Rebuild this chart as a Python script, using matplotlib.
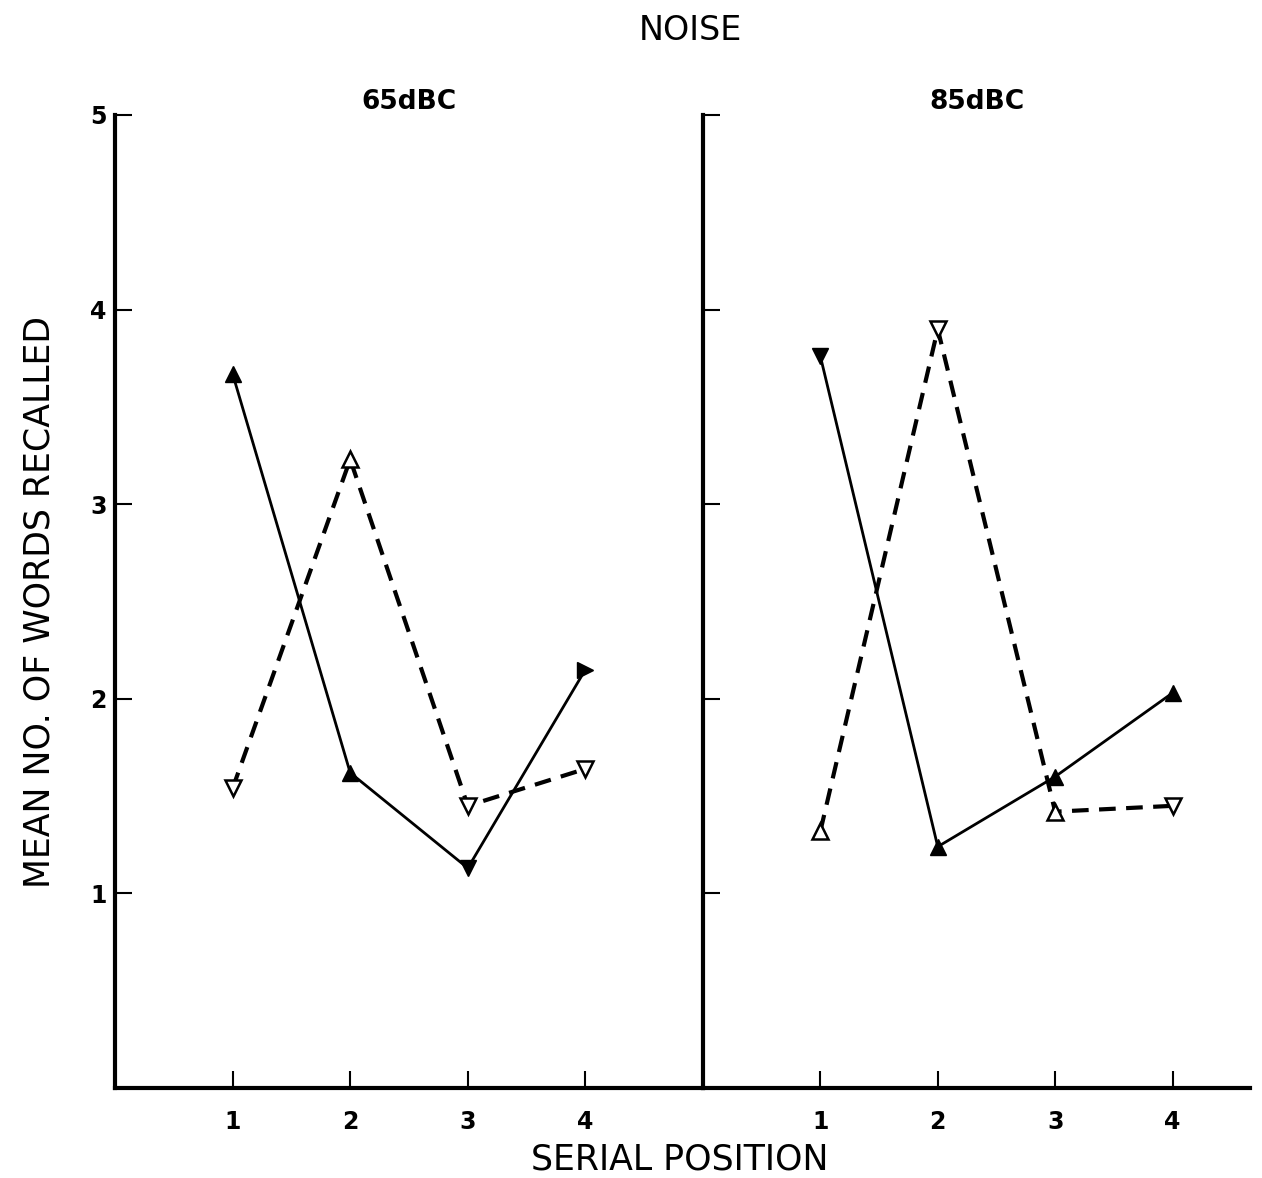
import matplotlib.pyplot as plt

plt.rcParams['font.family'] = ['DejaVu Sans']

positions = [1, 2, 3, 4]

# 65 dBC panel
solid_65 = [3.67, 1.62, 1.13, 2.15]
solid_65_mk = ['^', '^', 'v', '>']
dash_65 = [1.54, 3.23, 1.45, 1.64]
dash_65_mk = ['v', '^', 'v', 'v']

# 85 dBC panel
solid_85 = [3.76, 1.24, 1.60, 2.03]
solid_85_mk = ['v', '^', '^', '^']
dash_85 = [1.32, 3.90, 1.42, 1.45]
dash_85_mk = ['^', 'v', '^', 'v']

y_ticks = [1, 2, 3, 4, 5]
x_ticklabels = ['1', '2', '3', '4']

W, H = 1262, 1178
fig = plt.figure(figsize=(W / 100, H / 100), dpi=100)

bottom = 1 - 1088 / H
height = (1088 - 115) / H
ax1 = fig.add_axes([115 / W, bottom, (703 - 115) / W, height])
ax2 = fig.add_axes([703 / W, bottom, (1250 - 703) / W, height])


def draw_panel(ax, solid, solid_mk, dash, dash_mk, xmax, label, show_ylabels):
    ax.plot(positions, solid, color='black', lw=2, zorder=2)
    ax.plot(positions, dash, color='black', lw=3, ls=(0, (4, 2.5)), zorder=2)
    for x, y, m in zip(positions, solid, solid_mk):
        ax.plot(x, y, marker=m, ms=11, color='black', zorder=3)
    for x, y, m in zip(positions, dash, dash_mk):
        ax.plot(x, y, marker=m, ms=11, mfc='white', mec='black', mew=1.8, zorder=3)
    ax.set_xlim(0, xmax)
    ax.set_ylim(0, 5)
    for s in ['top', 'right']:
        ax.spines[s].set_visible(False)
    ax.spines['left'].set_linewidth(3)
    ax.spines['bottom'].set_linewidth(3)
    ax.set_xticks(positions)
    ax.set_xticklabels(x_ticklabels, fontsize=17, fontweight='bold')
    ax.set_yticks(y_ticks)
    if show_ylabels:
        ax.set_yticklabels([str(t) for t in y_ticks], fontsize=17, fontweight='bold')
    else:
        ax.set_yticklabels([])
    ax.tick_params(direction='in', length=12, width=1.5)
    ax.tick_params(axis='x', pad=16)
    ax.tick_params(axis='y', pad=6)
    ax.set_title(label, fontsize=19, fontweight='bold', pad=2)
    ax.set_facecolor('none')


draw_panel(ax1, solid_65, solid_65_mk, dash_65, dash_65_mk, 5.0, '65dBC', True)
draw_panel(ax2, solid_85, solid_85_mk, dash_85, dash_85_mk, 4.66, '85dBC', False)

ax1.set_ylabel('MEAN NO. OF WORDS RECALLED', fontsize=25, labelpad=24)
fig.text(690 / W, 1 - 30 / H, 'NOISE', ha='center', va='center', fontsize=24)
fig.text(680 / W, 1 - 1160 / H, 'SERIAL POSITION', ha='center', va='center', fontsize=25)

fig.savefig('out.png', dpi=100, facecolor='white')
